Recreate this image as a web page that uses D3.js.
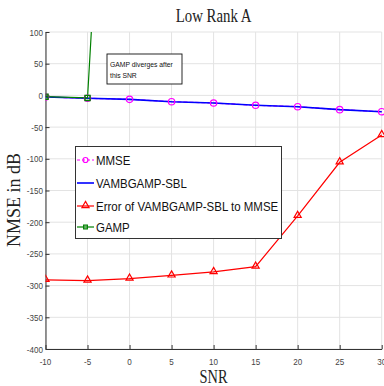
<!DOCTYPE html>
<meta charset="utf-8">
<style>
body { margin: 0; background: #fff; }
.grid line { stroke: #e3e3e3; stroke-width: 1; }
.tick-label { font: 9.5px "Liberation Sans", Arial, sans-serif; fill: #444; }
.serif { font-family: "Liberation Serif", "Times New Roman", serif; fill: #222; }
.legend-text { font: 13.5px "Liberation Sans", Arial, sans-serif; fill: #111; }
</style>
<body>
<svg width="384" height="386"></svg>
<script src="https://d3js.org/d3.v7.min.js"></script>
<script>
var snr = [-10, -5, 0, 5, 10, 15, 20, 25, 30];
var mmse = [-2.5, -4.6, -6.2, -9.9, -12, -15.6, -17.8, -22.5, -25.7];
var vamb = [-2.5, -4.6, -6.2, -9.9, -12, -15.6, -17.8, -22.5, -25.7];
var errVamb = [-291, -292, -289, -284, -278.5, -270, -190, -105.5, -62.5];
var gampSnr = [-10, -5, 0];
var gamp = [-2, -4, 1150];
var xTicks = [-10, -5, 0, 5, 10, 15, 20, 25, 30];
var yTicks = [100, 50, 0, -50, -100, -150, -200, -250, -300, -350, -400];
var legendNames = ["MMSE", "VAMBGAMP-SBL", "Error of VAMBGAMP-SBL to MMSE", "GAMP"];

var svg = d3.select("svg"),
    pLeft = 45.5, pRight = 381.7, pTop = 32, pBottom = 349;

var x = d3.scaleLinear().domain([-10, 30]).range([pLeft, pRight]),
    y = d3.scaleLinear().domain([-400, 100]).range([pBottom, pTop]);

// squeezed text, the figure is narrower than the fonts
function txt(g, px, py, s, cls, anchor, sx) {
  return g.append("text")
      .attr("class", cls)
      .attr("text-anchor", anchor || "start")
      .attr("transform", "translate(" + px + "," + py + ") scale(" + (sx || 0.85) + ",1)")
      .text(s);
}

svg.append("defs").append("clipPath").attr("id", "clip")
  .append("rect").attr("x", pLeft).attr("y", pTop).attr("width", pRight - pLeft + 4).attr("height", pBottom - pTop);

// grid
var grid = svg.append("g").attr("class", "grid");
grid.selectAll(".vx").data(xTicks).enter().append("line")
    .attr("x1", function(d) { return x(d); }).attr("x2", function(d) { return x(d); })
    .attr("y1", pTop).attr("y2", pBottom);
grid.selectAll(".hy").data(yTicks).enter().append("line")
    .attr("x1", pLeft).attr("x2", pRight)
    .attr("y1", function(d) { return y(d); }).attr("y2", function(d) { return y(d); });

// axes, ticks inside like matlab
svg.append("g")
    .attr("transform", "translate(0," + pBottom + ")")
    .call(d3.axisBottom(x).tickValues(xTicks).tickSize(-4).tickSizeOuter(0).tickFormat(""))
    .call(function(g) { g.selectAll("path, line").attr("stroke", "#333"); });
svg.append("g")
    .attr("transform", "translate(" + pLeft + ",0)")
    .call(d3.axisLeft(y).tickValues(yTicks).tickSize(-4).tickSizeOuter(0).tickFormat(""))
    .call(function(g) { g.selectAll("path, line").attr("stroke", "#333"); });

xTicks.forEach(function(t) { txt(svg, x(t), 365, t, "tick-label", "middle"); });
yTicks.forEach(function(t) { txt(svg, 43, y(t) + 3.5, t, "tick-label", "end"); });

// lines
var plot = svg.append("g").attr("clip-path", "url(#clip)");
var line = d3.line().x(function(d) { return x(d[0]); }).y(function(d) { return y(d[1]); });
function pairs(xs, ys) { return xs.map(function(v, i) { return [v, ys[i]]; }); }

plot.append("path").datum(pairs(snr, mmse)).attr("d", line)
    .attr("fill", "none").attr("stroke", "#ff00ff").attr("stroke-width", 1.2).attr("stroke-dasharray", "4,2");
plot.append("path").datum(pairs(snr, vamb)).attr("d", line)
    .attr("fill", "none").attr("stroke", "#0000ff").attr("stroke-width", 1.6);
plot.append("path").datum(pairs(snr, errVamb)).attr("d", line)
    .attr("fill", "none").attr("stroke", "#ff0000").attr("stroke-width", 1.2);
plot.append("path").datum(pairs(gampSnr, gamp)).attr("d", line)
    .attr("fill", "none").attr("stroke", "#008000").attr("stroke-width", 1.2);

var tri = d3.symbol().type(d3.symbolTriangle).size(22);
var sq = d3.symbol().type(d3.symbolSquare).size(26);

plot.selectAll(".mm").data(pairs(snr, mmse)).enter().append("circle")
    .attr("cx", function(d) { return x(d[0]); }).attr("cy", function(d) { return y(d[1]); })
    .attr("r", 3.2).attr("fill", "none").attr("stroke", "#ff00ff").attr("stroke-width", 1.2);
plot.selectAll(".er").data(pairs(snr, errVamb)).enter().append("path")
    .attr("d", tri).attr("transform", function(d) { return "translate(" + x(d[0]) + "," + (y(d[1]) - 0.5) + ")"; })
    .attr("fill", "none").attr("stroke", "#ff0000").attr("stroke-width", 1.2);
plot.selectAll(".ga").data(pairs(gampSnr, gamp)).enter().append("path")
    .attr("d", sq).attr("transform", function(d) { return "translate(" + x(d[0]) + "," + y(d[1]) + ")"; })
    .attr("fill", "none").attr("stroke", "#008000").attr("stroke-width", 1.4);

// annotation
svg.append("rect").attr("x", 107).attr("y", 54).attr("width", 75).attr("height", 30)
    .attr("fill", "#fff").attr("stroke", "#111").attr("stroke-width", 0.9);
txt(svg, 110, 67, "GAMP diverges after", "legend-text").style("font-size", "8px");
txt(svg, 110, 77.5, "this SNR", "legend-text").style("font-size", "8px");

// legend
var lg = svg.append("g");
lg.append("rect").attr("x", 75.5).attr("y", 146.5).attr("width", 206).attr("height", 92)
    .attr("fill", "#fff").attr("stroke", "#333").attr("stroke-width", 1);
var ly = [160, 183, 206, 227];
var lcol = ["#ff00ff", "#0000ff", "#ff0000", "#008000"];
legendNames.forEach(function(n, i) {
  var l = lg.append("line").attr("x1", 77).attr("x2", 94).attr("y1", ly[i]).attr("y2", ly[i])
      .attr("stroke", lcol[i]).attr("stroke-width", i == 1 ? 1.6 : 1.2);
  if (i == 0) l.attr("stroke-dasharray", "3,2");
  txt(lg, 96, ly[i] + 5, n, "legend-text");
});
lg.append("circle").attr("cx", 85.5).attr("cy", ly[0]).attr("r", 2.5)
    .attr("fill", "none").attr("stroke", "#ff00ff").attr("stroke-width", 1.2);
lg.append("path").attr("d", tri).attr("transform", "translate(85.5," + (ly[2] - 0.5) + ")")
    .attr("fill", "none").attr("stroke", "#ff0000").attr("stroke-width", 1.2);
lg.append("path").attr("d", d3.symbol().type(d3.symbolSquare).size(14)).attr("transform", "translate(85.5," + ly[3] + ")")
    .attr("fill", "none").attr("stroke", "#008000").attr("stroke-width", 1.2);

// titles
txt(svg, 213.6, 22, "Low Rank A", "serif", "middle", 0.78).style("font-size", "19px");
txt(svg, 213.6, 383, "SNR", "serif", "middle", 0.8).style("font-size", "18px");
svg.append("text").attr("class", "serif")
    .attr("text-anchor", "middle")
    .attr("transform", "translate(20,200) rotate(-90)")
    .style("font-size", "18px")
    .text("NMSE in dB");
</script>
</body>
